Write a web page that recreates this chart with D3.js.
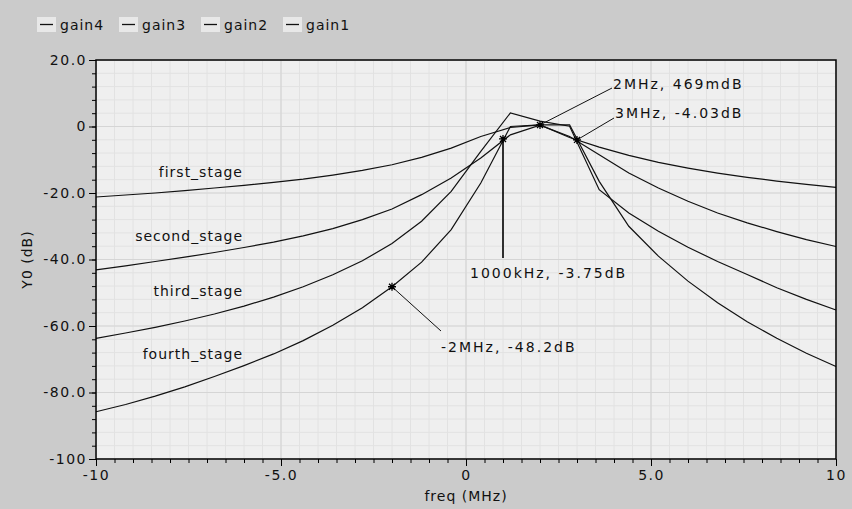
<!DOCTYPE html>
<html>
<head>
<meta charset="utf-8">
<script src="https://cdn.jsdelivr.net/npm/d3@7"></script>
<style>
  body { margin: 0; background: #cbcbcb; }
  svg { display: block; font-family: "DejaVu Sans", sans-serif; }
</style>
</head>
<body>
<svg id="chart" width="852" height="509"></svg>
<script>
// sample points (MHz)
var freq = [-10, -9.2, -8.4, -7.6, -6.8, -6.0, -5.2, -4.4, -3.6, -2.8, -2.0, -1.2, -0.4,
            0.4, 1.2, 2.0, 2.8, 3.6, 4.4, 5.2, 6.0, 6.8, 7.6, 8.4, 9.2, 10]

// gain in dB
var gain1 = [-21.2, -20.6, -20.0, -19.3, -18.5, -17.7, -16.8, -15.8, -14.6, -13.2, -11.5, -9.3, -6.5,
             -3.0, -0.3, 0.47, -3.3, -6.2, -8.7, -10.8, -12.5, -14.0, -15.3, -16.4, -17.4, -18.3]
var gain2 = [-43.1, -41.9, -40.6, -39.3, -37.9, -36.4, -34.8, -32.9, -30.7, -28.0, -24.8, -20.5, -15.5,
             -9.5, -2.5, 0.4, -3.0, -8.5, -14.0, -18.5, -22.5, -26.0, -29.0, -31.6, -34.0, -36.1]
var gain3 = [-63.7, -62.1, -60.4, -58.5, -56.4, -54.0, -51.3, -48.2, -44.6, -40.4, -35.2, -28.5, -19.5,
             -7.5, 4.1, 1.6, 0.1, -19.0, -26.0, -31.5, -36.3, -40.6, -44.5, -48.5, -52.0, -55.2]
var gain4 = [-85.8, -83.6, -81.1, -78.3, -75.2, -71.9, -68.4, -64.4, -59.8, -54.5, -48.2, -40.8, -31.0,
             -17.0, 0.0, 0.5, 0.5, -16.5, -30.0, -39.0, -46.5, -53.0, -58.7, -63.7, -68.2, -72.2]

var seriesNames = ["gain4", "gain3", "gain2", "gain1"]
var stageLabels = ["first_stage", "second_stage", "third_stage", "fourth_stage"]

var markerFreq = [2, 3, 1, -2]
var markerValue = [0.469, -4.03, -3.75, -48.2]
var markerText = ["2MHz, 469mdB", "3MHz, -4.03dB", "1000kHz, -3.75dB", "-2MHz, -48.2dB"]

var xTicks = [-10, -5, 0, 5, 10]
var xTickLabels = ["-10", "-5.0", "0", "5.0", "10"]
var yTicks = [20, 0, -20, -40, -60, -80, -100]
var yTickLabels = ["20.0", "0", "-20.0", "-40.0", "-60.0", "-80.0", "-100"]

var svg = d3.select("#chart")
var margin = {top: 60, right: 16, bottom: 50, left: 96}
var W = 852, H = 509
var x = d3.scaleLinear().domain([-10, 10]).range([margin.left, W - margin.right])
var y = d3.scaleLinear().domain([-100, 20]).range([H - margin.bottom, margin.top])

// plot background
svg.append("rect")
    .attr("x", x(-10)).attr("y", y(20))
    .attr("width", x(10) - x(-10)).attr("height", y(-100) - y(20))
    .attr("fill", "#efefef")

// grid, minor then major
var xMinor = d3.range(-10, 10.01, 0.5)
var yMinor = d3.range(-100, 20.01, 4)
var grid = svg.append("g")
grid.selectAll(".vmin").data(xMinor).enter().append("line")
    .attr("x1", d => x(d)).attr("x2", d => x(d))
    .attr("y1", y(20)).attr("y2", y(-100))
    .attr("stroke", "#e2e2e2").attr("stroke-width", 1)
grid.selectAll(".hmin").data(yMinor).enter().append("line")
    .attr("y1", d => y(d)).attr("y2", d => y(d))
    .attr("x1", x(-10)).attr("x2", x(10))
    .attr("stroke", "#e2e2e2").attr("stroke-width", 1)
grid.selectAll(".vmaj").data(xTicks).enter().append("line")
    .attr("x1", d => x(d)).attr("x2", d => x(d))
    .attr("y1", y(20)).attr("y2", y(-100))
    .attr("stroke", "#d5d5d5").attr("stroke-width", 1.2)
grid.selectAll(".hmaj").data(yTicks).enter().append("line")
    .attr("y1", d => y(d)).attr("y2", d => y(d))
    .attr("x1", x(-10)).attr("x2", x(10))
    .attr("stroke", "#d5d5d5").attr("stroke-width", 1.2)

// curves
var allGains = [gain1, gain2, gain3, gain4]
var line = d3.line().x((d, i) => x(freq[i])).y(d => y(d))
svg.append("g").selectAll("path").data(allGains).enter().append("path")
    .attr("d", line)
    .attr("fill", "none")
    .attr("stroke", "#111")
    .attr("stroke-width", 1.2)

// axes
var txt = function(g) {
    g.selectAll("text")
        .attr("font-size", 14)
        .attr("fill", "#111")
        .attr("letter-spacing", 1.5)
        .attr("font-family", "DejaVu Sans")
    g.select(".domain").remove()
}
svg.append("g")
    .attr("transform", "translate(" + margin.left + ",0)")
    .call(d3.axisLeft(y).tickValues(yMinor).tickSize(4).tickFormat(""))
    .call(g => g.select(".domain").remove())
svg.append("g")
    .attr("transform", "translate(" + margin.left + ",0)")
    .call(d3.axisLeft(y).tickValues(yTicks).tickSize(7).tickPadding(2)
        .tickFormat((d, i) => yTickLabels[i]))
    .call(txt)
svg.append("g")
    .attr("transform", "translate(0," + (H - margin.bottom) + ")")
    .call(d3.axisBottom(x).tickValues(xMinor).tickSize(4).tickFormat(""))
    .call(g => g.select(".domain").remove())
svg.append("g")
    .attr("transform", "translate(0," + (H - margin.bottom) + ")")
    .call(d3.axisBottom(x).tickValues(xTicks).tickSize(7).tickPadding(4)
        .tickFormat((d, i) => xTickLabels[i]))
    .call(txt)

// frame
svg.append("rect")
    .attr("x", x(-10)).attr("y", y(20))
    .attr("width", x(10) - x(-10)).attr("height", y(-100) - y(20))
    .attr("fill", "none").attr("stroke", "#000").attr("stroke-width", 1.5)

// axis titles
svg.append("text")
    .attr("x", x(0)).attr("y", 501)
    .attr("text-anchor", "middle")
    .attr("font-size", 14).attr("letter-spacing", 1)
    .attr("fill", "#111")
    .text("freq (MHz)")
svg.append("text")
    .attr("transform", "translate(32," + y(-40) + ") rotate(-90)")
    .attr("text-anchor", "middle")
    .attr("font-size", 14).attr("letter-spacing", 1)
    .attr("fill", "#111")
    .text("Y0 (dB)")

// stage labels, sitting just above each curve on the left
var labelY = [171.7, 236, 290.7, 354]
svg.append("g").selectAll("text").data(stageLabels).enter().append("text")
    .attr("x", 243)
    .attr("y", (d, i) => labelY[i] + 5)
    .attr("text-anchor", "end")
    .attr("font-size", 14).attr("letter-spacing", 1)
    .attr("fill", "#111")
    .text(d => d)

// markers and their callouts
var callout = [
    {dx: 613, dy: 84, lx: 612, ly: 88},
    {dx: 615, dy: 113, lx: 614, ly: 118},
    {dx: 470, dy: 273, lx: null, ly: 258},
    {dx: 441, dy: 347, lx: 441, ly: 331}
]
var mk = svg.append("g")
markerFreq.forEach(function(f, i) {
    var px = x(f), py = y(markerValue[i]), c = callout[i]
    if (c.lx === null) {
        mk.append("line").attr("x1", px).attr("x2", px).attr("y1", py).attr("y2", c.ly)
            .attr("stroke", "#000").attr("stroke-width", 1.6)
    } else {
        mk.append("line").attr("x1", px).attr("y1", py).attr("x2", c.lx).attr("y2", c.ly)
            .attr("stroke", "#111").attr("stroke-width", 1)
    }
    var s = 4
    mk.append("path")
        .attr("d", "M" + (px - s) + "," + py + "h" + (2 * s) +
                   "M" + px + "," + (py - s) + "v" + (2 * s) +
                   "M" + (px - 3) + "," + (py - 3) + "l6,6" +
                   "M" + (px - 3) + "," + (py + 3) + "l6,-6")
        .attr("stroke", "#000").attr("stroke-width", 1.3)
    mk.append("text")
        .attr("x", c.dx).attr("y", c.dy + 5)
        .attr("font-size", 14).attr("letter-spacing", 2)
        .attr("fill", "#111")
        .text(markerText[i])
})

// legend
var leg = svg.append("g").selectAll("g").data(seriesNames).enter().append("g")
    .attr("transform", (d, i) => "translate(" + (37 + i * 82) + ",17)")
leg.append("rect").attr("width", 19).attr("height", 15).attr("fill", "#e8e8e8")
leg.append("line").attr("x1", 3).attr("x2", 16).attr("y1", 7.5).attr("y2", 7.5)
    .attr("stroke", "#111").attr("stroke-width", 1.3)
leg.append("text")
    .attr("x", 23).attr("y", 12.5)
    .attr("font-size", 14).attr("letter-spacing", 1)
    .attr("fill", "#111")
    .text(d => d)
</script>
</body>
</html>
